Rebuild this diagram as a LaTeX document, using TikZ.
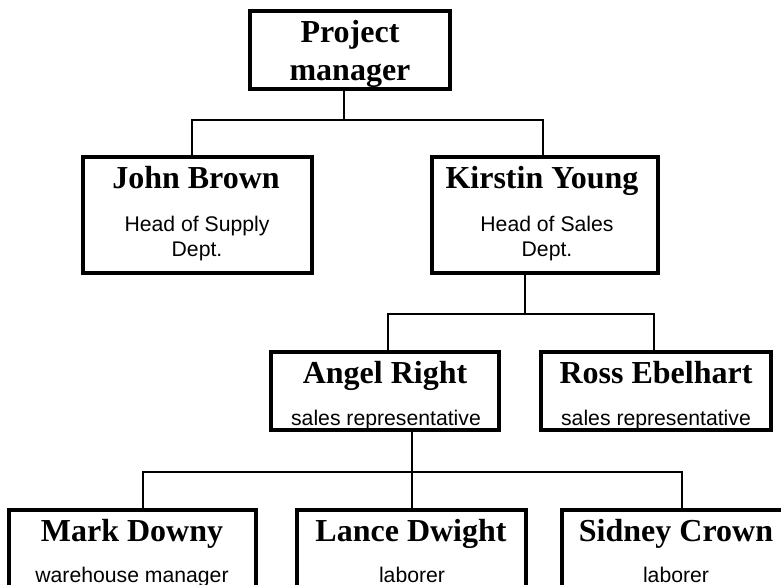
\documentclass[tikz,border=0pt]{standalone}
\usepackage{fontspec}
\setmainfont{Liberation Serif}
\setsansfont{Liberation Sans}
\usetikzlibrary{calc}
\begin{document}
\begin{tikzpicture}[x=1pt,y=-1pt,
  box/.style={draw=black,line width=3.3pt,rectangle,inner sep=0pt,fill=white},
  nm/.style={inner sep=0pt,anchor=base,font=\fontsize{32}{38}\selectfont\bfseries},
  sub/.style={inner sep=0pt,anchor=base,font=\sffamily\fontsize{21.2}{24.5}\selectfont},
  conn/.style={draw=black,line width=1.7pt}]
\useasboundingbox (0,0) rectangle (781,585);
\clip (0,0) rectangle (781,585);
% bus coordinates
\coordinate (bus1) at (344,120);
\coordinate (bus2) at (525,314);
\coordinate (bus3) at (412,472);
% boxes
\node[box,minimum width=200,minimum height=78] (pm) at (350,50) {};
\node[box,minimum width=229,minimum height=116] (john) at (197.5,215) {};
\node[box,minimum width=226,minimum height=116] (kirstin) at (545,215) {};
\node[box,minimum width=228,minimum height=78] (angel) at (385,391) {};
\node[box,minimum width=230,minimum height=78] (ross) at (656,391) {};
\node[box,minimum width=247,minimum height=100] (mark) at (132.5,560) {};
\node[box,minimum width=229,minimum height=100] (lance) at (411.5,560) {};
\node[box,minimum width=229,minimum height=100] (sidney) at (676.5,560) {};
% connectors
\draw[conn] (pm.south -| bus1) -- (bus1);
\draw[conn] ($(john.north)+(-5.5,0)$) |- (bus1) -| ($(kirstin.north)+(-2,0)$);
\draw[conn] (kirstin.south -| bus2) -- (bus2);
\draw[conn] ($(angel.north)+(3,0)$) |- (bus2) -| ($(ross.north)+(-2,0)$);
\draw[conn] (angel.south -| bus3) -- (lance.north -| bus3);
\draw[conn] ($(mark.north)+(10.5,0)$) |- (bus3) -| ($(sidney.north)+(5.5,0)$);
% texts
\node[nm] (pmA) at (350,43) {Project};
\node[nm] (pmB) at (350,81) {manager};
\node[nm] (johnN) at (196,189) {John Brown};
\node[sub] (johnA) at (197,232) {Head of Supply};
\node[sub] (johnB) at (197,256) {Dept.};
\node[nm] (kirstinN) at (542,189) {Kirstin Young};
\node[sub] (kirstinA) at (547,232) {Head of Sales};
\node[sub] (kirstinB) at (547,256) {Dept.};
\node[nm] (angelN) at (385,383) {Angel Right};
\node[sub] (angelS) at (386,425) {sales representative};
\node[nm] (rossN) at (656,383) {Ross Ebelhart};
\node[sub] (rossS) at (656,425) {sales representative};
\node[nm] (markN) at (132,541) {Mark Downy};
\node[sub] (markS) at (132,582) {warehouse manager};
\node[nm] (lanceN) at (411,541) {Lance Dwight};
\node[sub] (lanceS) at (412,582) {laborer};
\node[nm] (sidneyN) at (676,541) {Sidney Crown};
\node[sub] (sidneyS) at (676,582) {laborer};
\end{tikzpicture}
\end{document}
